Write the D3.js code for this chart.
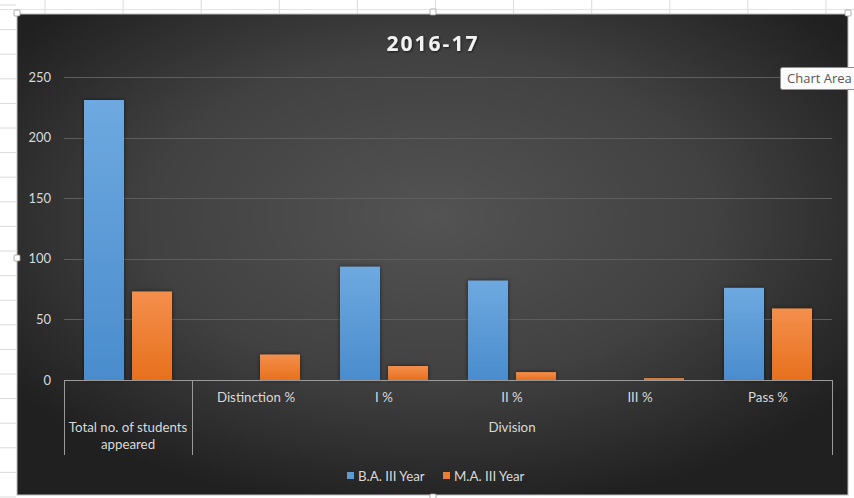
<!DOCTYPE html>
<html>
<head>
<meta charset="utf-8">
<script src="https://cdn.jsdelivr.net/npm/d3@7"></script>
<style>
  html, body { margin: 0; padding: 0; background: #ffffff; }
  svg { display: block; }
</style>
</head>
<body>
<svg id="chart" width="854" height="498"></svg>
<script>
// ---------- data ----------
const title = "2016-17";
const categories = ["Total no. of students appeared", "Distinction %", "I %", "II %", "III  %", "Pass %"];
const groupLabel = "Division";
const groupMembers = ["Distinction %", "I %", "II %", "III  %", "Pass %"];
const seriesNames = ["B.A. III Year", "M.A. III Year"];
const baValues = [231, 0, 93.5, 82, 0, 76];
const maValues = [73, 21, 11.5, 6.5, 1.5, 59];
const yTicks = [0, 50, 100, 150, 200, 250];

// ---------- layout ----------
const W = 854, H = 498;
const chart = { x: 17, y: 14, w: 831, h: 481 };
const plot = { left: 64, right: 832, top: 77, bottom: 380 };
const font = "Lato, 'Open Sans', 'DejaVu Sans', sans-serif";
const textCol = "#d9d9d9";
const colors = ["#5b9bd5", "#ed7d31"];

const svg = d3.select("#chart");
const defs = svg.append("defs");

// background radial gradient
const bg = defs.append("radialGradient").attr("id", "bg")
  .attr("cx", "50%").attr("cy", "42%").attr("r", "62%");
bg.append("stop").attr("offset", "0%").attr("stop-color", "#535353");
bg.append("stop").attr("offset", "55%").attr("stop-color", "#414141");
bg.append("stop").attr("offset", "100%").attr("stop-color", "#202020");

// bar gradients
const barGrads = [["#6ea9e0", "#4a8ccd"], ["#f48f4c", "#e7701d"]];
barGrads.forEach((g, i) => {
  const lg = defs.append("linearGradient").attr("id", "bar" + i)
    .attr("x1", 0).attr("y1", 0).attr("x2", 0).attr("y2", 1);
  lg.append("stop").attr("offset", "0%").attr("stop-color", g[0]);
  lg.append("stop").attr("offset", "100%").attr("stop-color", g[1]);
});
const sh = defs.append("filter").attr("id", "shadow")
  .attr("x", "-30%").attr("y", "-30%").attr("width", "160%").attr("height", "160%");
sh.append("feDropShadow").attr("dx", 0).attr("dy", 0).attr("stdDeviation", 2)
  .attr("flood-color", "#000").attr("flood-opacity", 0.55);
const tsh = defs.append("filter").attr("id", "tshadow");
tsh.append("feDropShadow").attr("dx", 1).attr("dy", 1).attr("stdDeviation", 1)
  .attr("flood-color", "#000").attr("flood-opacity", 0.6);

// ---------- spreadsheet backdrop ----------
const sheet = svg.append("g");
d3.range(45, W, 78.1).forEach(x => {
  sheet.append("line").attr("x1", x).attr("x2", x).attr("y1", 0).attr("y2", 14)
    .attr("stroke", "#dadada").attr("stroke-width", 1);
});
d3.range(5, H, 24.6).forEach(y => {
  sheet.append("line").attr("x1", 0).attr("x2", 16).attr("y1", y).attr("y2", y)
    .attr("stroke", "#dadada").attr("stroke-width", 1);
});
sheet.append("line").attr("x1", 0).attr("x2", W).attr("y1", 9.5).attr("y2", 9.5)
  .attr("stroke", "#e4e4e4");

// ---------- chart area ----------
svg.append("rect").attr("x", chart.x).attr("y", chart.y)
  .attr("width", chart.w).attr("height", chart.h)
  .attr("fill", "url(#bg)").attr("stroke", "#bdbdbd").attr("stroke-width", 1);

// scales
const y = d3.scaleLinear().domain([0, 250]).range([plot.bottom, plot.top]);
const x0 = d3.scaleBand().domain(categories).range([plot.left, plot.right])
  .paddingInner(0.3125).paddingOuter(0.15625);
const x1 = d3.scaleBand().domain(seriesNames).range([0, x0.bandwidth()])
  .paddingInner(0.167).paddingOuter(0);

// gridlines
svg.append("g").selectAll("line").data(yTicks.filter(d => d > 0)).join("line")
  .attr("x1", plot.left).attr("x2", plot.right)
  .attr("y1", d => Math.round(y(d)) + 0.5).attr("y2", d => Math.round(y(d)) + 0.5)
  .attr("stroke", "#5e5e5e").attr("stroke-width", 1);

// y axis labels
const yAxis = d3.axisLeft(y).tickValues(yTicks).tickSize(0).tickPadding(0);
const yg = svg.append("g").attr("transform", `translate(51,0)`).call(yAxis);
yg.select(".domain").remove();
yg.selectAll("text").attr("fill", textCol).style("font-family", font).style("font-size", "13px");

// bars
const rows = categories.map((c, i) => ({ cat: c, vals: [baValues[i], maValues[i]] }));
const bars = svg.append("g");
rows.forEach(r => {
  r.vals.forEach((v, s) => {
    if (v <= 0) return;
    bars.append("rect")
      .attr("x", x0(r.cat) + x1(seriesNames[s]))
      .attr("y", y(v))
      .attr("width", x1.bandwidth())
      .attr("height", y(0) - y(v))
      .attr("fill", `url(#bar${s})`)
      .attr("filter", "url(#shadow)");
  });
});

// category axis (multi-level)
const axCol = "#9a9a9a";
const ax = svg.append("g");
ax.append("line").attr("x1", plot.left).attr("x2", plot.right)
  .attr("y1", y(0) + 0.5).attr("y2", y(0) + 0.5).attr("stroke", axCol);
const sepX = [plot.left, x0(groupMembers[0]) - x0.step() * x0.paddingInner() / 2, plot.right];
sepX.forEach(sx => {
  ax.append("line").attr("x1", Math.round(sx) + 0.5).attr("x2", Math.round(sx) + 0.5)
    .attr("y1", y(0)).attr("y2", 455).attr("stroke", axCol);
});
const xAxis = d3.axisBottom(x0).tickSize(0).tickPadding(0);
const xg = ax.append("g").attr("transform", `translate(0,${y(0)})`).call(xAxis);
xg.select(".domain").remove();
xg.selectAll("text").each(function(d) {
  const t = d3.select(this);
  t.attr("fill", textCol).style("font-family", font).style("font-size", "13.3px");
  if (d === categories[0]) {
    t.text(null).attr("y", 0).attr("dy", null);
    t.append("tspan").attr("x", 0).attr("y", 52).text("Total no. of students");
    t.append("tspan").attr("x", 0).attr("y", 69).text("appeared");
  } else {
    t.attr("y", 22).attr("dy", null);
  }
});
const gx0 = sepX[1], gx1 = sepX[2];
ax.append("text").attr("x", (gx0 + gx1) / 2).attr("y", 432)
  .attr("text-anchor", "middle").attr("fill", textCol)
  .style("font-family", font).style("font-size", "13.3px").text(groupLabel);

// title
svg.append("text").attr("x", 433).attr("y", 51).attr("text-anchor", "middle")
  .attr("fill", "#f2f2f2").attr("filter", "url(#tshadow)")
  .style("font-family", "'Open Sans', 'DejaVu Sans', sans-serif")
  .style("font-size", "21px").style("font-weight", "bold").style("letter-spacing", "2px")
  .text(title);

// legend
const legend = svg.append("g");
const legItems = [{ x: 347, name: seriesNames[0] }, { x: 443, name: seriesNames[1] }];
legItems.forEach((it, i) => {
  legend.append("rect").attr("x", it.x).attr("y", 472).attr("width", 7).attr("height", 7)
    .attr("fill", colors[i]);
  legend.append("text").attr("x", it.x + 11).attr("y", 480.5).attr("fill", textCol)
    .style("font-family", font).style("font-size", "13.3px").text(it.name);
});

// selection handles
[[17, 13], [433, 12], [17, 258], [433, 497], [848, 13]].forEach(p => {
  svg.append("rect").attr("x", p[0] - 3).attr("y", p[1] - 3).attr("width", 6).attr("height", 6)
    .attr("fill", "#ffffff").attr("stroke", "#9a9a9a").attr("stroke-width", 0.8).attr("rx", 1);
});

// tooltip
const tip = svg.append("g").attr("transform", "translate(780,67)");
tip.append("rect").attr("x", 0.5).attr("y", 0.5).attr("width", 80).attr("height", 22).attr("rx", 2)
  .attr("fill", "#fbfbfb").attr("stroke", "#8f8f8f");
tip.append("text").attr("x", 7).attr("y", 16).attr("fill", "#575757")
  .style("font-family", "'Open Sans', sans-serif").style("font-size", "13px").text("Chart Area");
</script>
</body>
</html>
